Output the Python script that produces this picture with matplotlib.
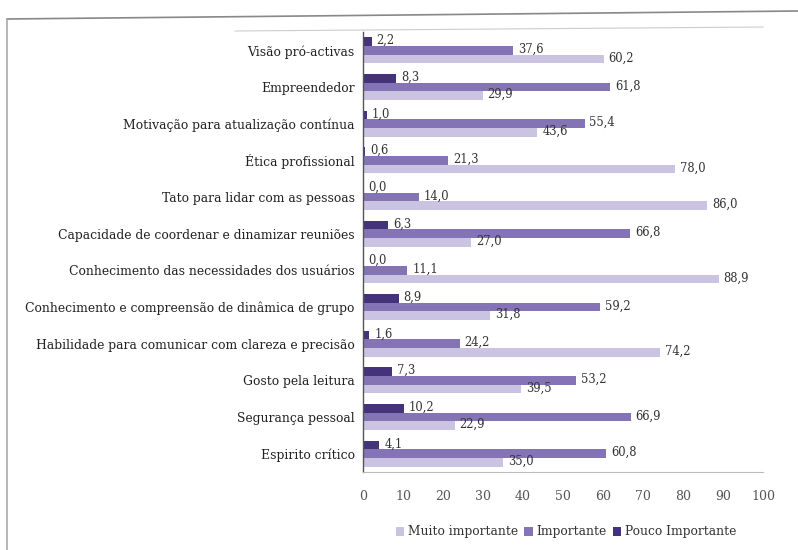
import matplotlib
matplotlib.use("Agg")
import matplotlib.pyplot as plt
from matplotlib.lines import Line2D
from matplotlib.patches import Patch
import numpy as np

categories = [
    "Visão pró-activas",
    "Empreendedor",
    "Motivação para atualização contínua",
    "Ética profissional",
    "Tato para lidar com as pessoas",
    "Capacidade de coordenar e dinamizar reuniões",
    "Conhecimento das necessidades dos usuários",
    "Conhecimento e compreensão de dinâmica de grupo",
    "Habilidade para comunicar com clareza e precisão",
    "Gosto pela leitura",
    "Segurança pessoal",
    "Espirito crítico",
]
pouco_importante = [2.2, 8.3, 1.0, 0.6, 0.0, 6.3, 0.0, 8.9, 1.6, 7.3, 10.2, 4.1]
importante = [37.6, 61.8, 55.4, 21.3, 14.0, 66.8, 11.1, 59.2, 24.2, 53.2, 66.9, 60.8]
muito_importante = [60.2, 29.9, 43.6, 78.0, 86.0, 27.0, 88.9, 31.8, 74.2, 39.5, 22.9, 35.0]
x_ticks = [0, 10, 20, 30, 40, 50, 60, 70, 80, 90, 100]

series = [
    ("Pouco Importante", pouco_importante, "#44337a"),
    ("Importante", importante, "#8474b5"),
    ("Muito importante", muito_importante, "#cbc3e2"),
]

plt.rcParams["font.family"] = ["DejaVu Serif"]

fig = plt.figure(figsize=(7.98, 5.5), dpi=100)
ax = fig.add_axes([363 / 798, 1 - 472 / 550, (763 - 363) / 798, (472 - 32) / 550])

n = len(categories)
y = np.arange(n)
bar_h = 0.235
offsets = [-bar_h, 0.0, bar_h]

for (name, vals, color), off in zip(series, offsets):
    ax.barh(y + off, vals, height=bar_h, color=color, label=name, edgecolor="none")
    for yi, v in zip(y, vals):
        ax.text(v + 1.2, yi + off - 0.03, f"{v:.1f}".replace(".", ","),
                va="center", ha="left", fontsize=8.3, color="#333333")

ax.set_xlim(0, 100)
ax.set_ylim(n - 0.5, -0.5)
ax.set_yticks(y)
ax.set_yticklabels(categories, fontsize=8.9, color="#222222")
ax.set_xticks(x_ticks)
ax.set_xticklabels([str(t) for t in x_ticks], fontsize=9, color="#555555")
ax.tick_params(axis="y", length=0, pad=6)
ax.tick_params(axis="x", length=0, pad=13)

for side in ("top", "right"):
    ax.spines[side].set_visible(False)
ax.spines["left"].set_color("#555555")
ax.spines["left"].set_linewidth(1.0)
ax.spines["bottom"].set_color("#bbbbbb")
ax.spines["bottom"].set_linewidth(0.8)

# legend order: light, medium, dark
handles = [Patch(facecolor=c, edgecolor="none") for _, _, c in reversed(series)]
labels = [s[0] for s in reversed(series)]
fig.legend(handles, labels, loc="center", bbox_to_anchor=(566 / 798, 1 - 532 / 550),
           ncol=3, frameon=False, fontsize=8.8, handlelength=0.7, handleheight=0.7,
           handletextpad=0.3, columnspacing=0.5, labelcolor="#333333")

# page frame lines
fig.add_artist(Line2D([7 / 798, 1.0], [1 - 19 / 550, 1 - 11 / 550], color="#888888", lw=1.2))
fig.add_artist(Line2D([7 / 798, 7 / 798], [1 - 19 / 550, 0.0], color="#aaaaaa", lw=1.2))
fig.add_artist(Line2D([235 / 798, 763 / 798], [1 - 31 / 550, 1 - 27 / 550], color="#cccccc", lw=0.8))

fig.savefig("out.png", dpi=100, facecolor="white")
